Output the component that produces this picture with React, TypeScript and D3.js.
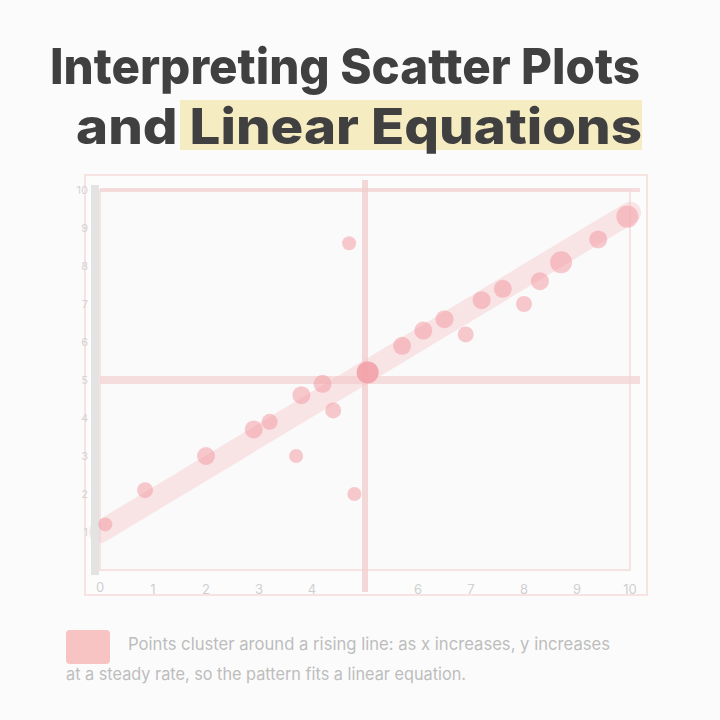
import * as d3 from 'd3'

const W = 720
const H = 720

const TITLE_LINES = ['Interpreting Scatter Plots', 'and Linear Equations']

// scatter points (x, y in chart units)
const pointX = [0.1, 0.85, 2.0, 2.9, 3.2, 3.7, 3.8, 4.2, 4.4, 4.8, 4.7, 5.05, 5.7, 6.1, 6.5, 6.9, 7.2, 7.6, 8.0, 8.3, 8.7, 9.4, 9.95]
const pointY = [1.2, 2.1, 3.0, 3.7, 3.9, 3.0, 4.6, 4.9, 4.2, 2.0, 8.6, 5.2, 5.9, 6.3, 6.6, 6.2, 7.1, 7.4, 7.0, 7.6, 8.1, 8.7, 9.3]
const pointR = [7, 8, 9, 9, 8, 7, 9, 9, 8, 7, 7, 11, 9, 9, 9, 8, 9, 9, 8, 9, 11, 9, 11]

// faint line of best fit
const trendX = [0, 10]
const trendY = [1.0, 9.4]

const xTicks = [1, 2, 3, 4, 6, 7, 8, 9, 10]
const yTicks = [1, 2, 3, 4, 5, 6, 7, 8, 9, 10]
const gridY = [5, 10]
const gridX = [5]

const CAPTION = [
  'Points cluster around a rising line: as x increases, y increases',
  'at a steady rate, so the pattern fits a linear equation.',
]

const MARGIN = { top: 190, right: 90, bottom: 150, left: 100 }

export default function App() {
  const x = d3.scaleLinear().domain([0, 10]).range([MARGIN.left, W - MARGIN.right])
  const y = d3.scaleLinear().domain([0, 10]).range([H - MARGIN.bottom, MARGIN.top])
  const trend = d3
    .line<number>()
    .x((d) => x(d))
    .y((_, i) => y(trendY[i]))(trendX)

  return (
    <svg
      width={W}
      height={H}
      viewBox={`0 0 ${W} ${H}`}
      style={{ display: 'block', position: 'absolute', left: 0, top: 0 }}
      fontFamily="Inter, 'Open Sans', sans-serif"
    >
      <rect x="0" y="0" width={W} height={H} fill="#fbfbfb" />

      {/* title, second line sits on a pale yellow highlight */}
      <rect x="180" y="100" width="462" height="50" fill="#f4eabb" opacity="0.9" />
      <text x="50" y="84" fontSize="50" fontWeight="800" fill="#404040" textLength="590" lengthAdjust="spacingAndGlyphs">
        {TITLE_LINES[0]}
      </text>
      <text x="76" y="144" fontSize="50" fontWeight="800" fill="#404040" textLength="566" lengthAdjust="spacingAndGlyphs">
        {TITLE_LINES[1]}
      </text>

      {/* plot frame */}
      <rect x="85" y="175" width="562" height="420" fill="#fcfcfc" stroke="#f7e4e2" strokeWidth="2" />
      <rect x={x(0)} y={y(10)} width={x(10) - x(0)} height={y(0) - y(10)} fill="#fafafa" stroke="#f6e3e1" strokeWidth="2" />

      {gridY.map((v) => (
        <line key={`gy${v}`} x1={x(0)} x2={x(10) + 10} y1={y(v)} y2={y(v)} stroke="#f5d6d6" strokeWidth={v === 5 ? 8 : 4} opacity="0.8" />
      ))}
      {gridX.map((v) => (
        <line key={`gx${v}`} x1={x(v)} x2={x(v)} y1={y(10) - 10} y2={H - 128} stroke="#f3cfcf" strokeWidth="6" opacity="0.8" />
      ))}

      <path d={trend ?? ''} stroke="#f6c8cb" strokeWidth="22" strokeLinecap="round" fill="none" opacity="0.45" />

      {/* y axis */}
      <line x1={x(0) - 5} x2={x(0) - 5} y1={y(10) - 5} y2={y(0) + 5} stroke="#e3e3e3" strokeWidth="8" />
      {yTicks.map((v) => (
        <text key={`yt${v}`} x={x(0) - 12} y={y(v) + 4} fontSize="11" fill="#d4d4d4" textAnchor="end">
          {v}
        </text>
      ))}

      {/* x tick labels */}
      {xTicks.map((v) => (
        <text key={`xt${v}`} x={x(v)} y={y(0) + 24} fontSize="13" fill="#d0d0d0" textAnchor="middle">
          {v}
        </text>
      ))}
      <text x={x(0)} y={y(0) + 22} fontSize="13" fill="#d0d0d0" textAnchor="middle">0</text>

      {/* points */}
      {pointX.map((px, i) => (
        <circle key={`p${i}`} cx={x(px)} cy={y(pointY[i])} r={pointR[i]} fill="#f29ea6" opacity={i === 11 ? 0.85 : 0.55} />
      ))}

      {/* caption with legend swatch */}
      <rect x="66" y="630" width="44" height="34" rx="4" fill="#f7c3c3" />
      <text x="128" y="650" fontSize="17" fill="#bdbdbd" textLength="482" lengthAdjust="spacingAndGlyphs">
        {CAPTION[0]}
      </text>
      <text x="66" y="680" fontSize="17" fill="#bdbdbd" textLength="400" lengthAdjust="spacingAndGlyphs">
        {CAPTION[1]}
      </text>
    </svg>
  )
}
